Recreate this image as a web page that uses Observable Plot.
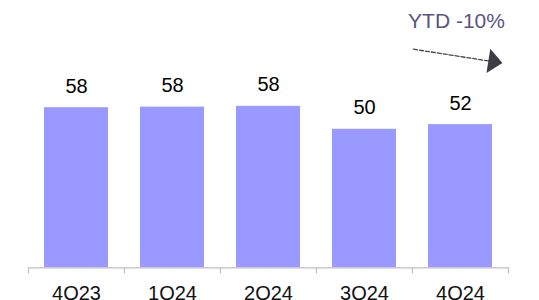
<!DOCTYPE html>
<html><head><meta charset="utf-8">
<script src="https://cdn.jsdelivr.net/npm/d3@7"></script>
<script src="https://cdn.jsdelivr.net/npm/@observablehq/plot@0.6"></script>
<style>
html,body{margin:0;padding:0;background:#fff;}
#chart{width:539px;height:300px;overflow:hidden;}
</style>
</head><body><div id="chart"></div>
<script>
// Data
const quarters = ["4Q23", "1Q24", "2Q24", "3Q24", "4Q24"];
const values = [57.8, 58.0, 58.3, 50.0, 51.7];
const valueLabels = ["58", "58", "58", "50", "52"];
const annotationText = ["YTD -10%"];

const data = quarters.map((q, i) => ({q, v: values[i], label: valueLabels[i]}));

// Layout
const W = 539, H = 300;
const mL = 28, mR = 31, mB = 32.7, mT = 0;
const yMax = 96.5;
const step = (W - mL - mR) / quarters.length;
const pxPerUnit = (H - mB - mT) / yMax;
const toY = (px) => (H - mB - px) / pxPerUnit; // convert a pixel offset from top into y units
const tickLen = 6;

const triangle = {
  draw(ctx, l) {
    ctx.moveTo(0, -l);
    ctx.lineTo(12.3, -l + 14.2);
    ctx.lineTo(-12.3, -l + 14.2);
    ctx.closePath();
  }
};
const plainLine = {
  draw(ctx, l) { ctx.moveTo(0, 0); ctx.lineTo(0, -l); }
};

const last = quarters[quarters.length - 1];

const chart = Plot.plot({
  width: W, height: H,
  marginLeft: mL, marginRight: mR, marginBottom: mB, marginTop: mT,
  style: {fontFamily: "'Liberation Sans', Arial, sans-serif", fontSize: "20px", color: "#000", background: "#fff"},
  x: {domain: quarters, paddingInner: 1/3, paddingOuter: 1/6, label: null},
  y: {domain: [0, yMax], axis: null},
  marks: [
    Plot.barY(data, {x: "q", y: "v", fill: "#9999ff"}),
    Plot.ruleY([0], {stroke: "#bfbfbf", strokeWidth: 1.2}),
    Plot.ruleX(quarters, {x: d => d, dx: -step / 2, y1: 0, y2: -tickLen / pxPerUnit, stroke: "#bfbfbf", strokeWidth: 1.2}),
    Plot.ruleX([last], {x: d => d, dx: step / 2, y1: 0, y2: -tickLen / pxPerUnit, stroke: "#bfbfbf", strokeWidth: 1.2}),
    Plot.axisX({tickSize: 0, tickPadding: 18, fontSize: 20, fill: "#111"}),
    Plot.text(data, {x: "q", y: "v", text: "label", lineAnchor: "bottom", dy: -15, fontSize: 20, fill: "#000"}),
    Plot.text(annotationText, {x: () => last, y: () => toY(27), text: d => d, dx: -4, lineAnchor: "bottom", fontSize: 21, fill: "#5c5283"}),
    Plot.vector([0], {x: () => last, y: () => toY(48.7), dx: -47, length: 90, rotate: 98.9, anchor: "start", shape: plainLine, stroke: "#444", strokeWidth: 1.3, strokeDasharray: "4,2"}),
    Plot.vector([0], {x: () => last, y: () => toY(48.7), dx: -47, length: 90, rotate: 98.9, anchor: "start", shape: triangle, stroke: "none", fill: "#3d3d44"})
  ]
});
document.getElementById("chart").appendChild(chart);
</script>
</body></html>
